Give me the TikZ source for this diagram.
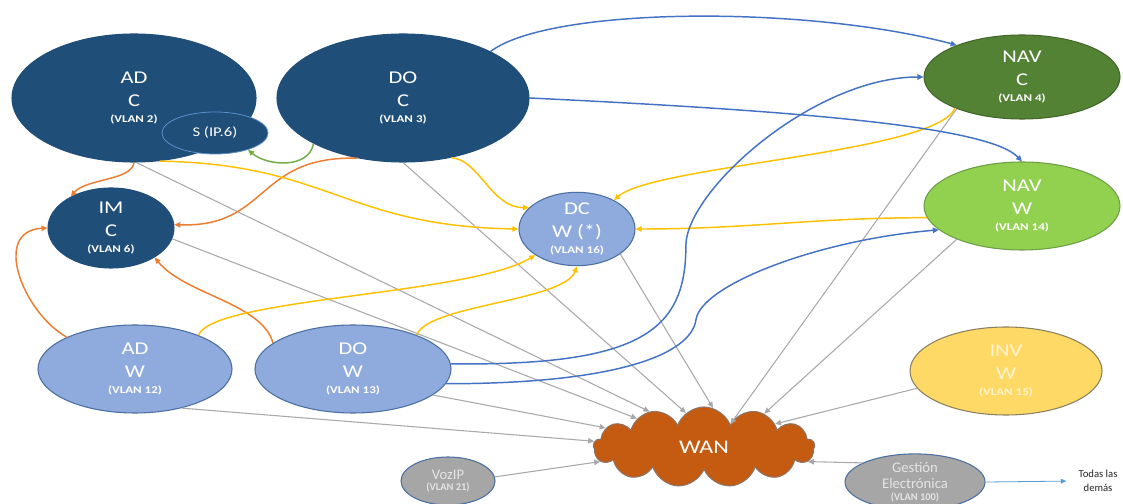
\documentclass[tikz,border=0pt]{standalone}
\usepackage{fontspec}
\setmainfont{Carlito}
\newfontfamily\widefont[FakeStretch=1.25]{Carlito}
\usetikzlibrary{shapes.geometric,shapes.symbols,arrows.meta}
\definecolor{dkblue}{HTML}{1F4E79}
\definecolor{ltblue}{HTML}{8FAADC}
\definecolor{bdblue}{HTML}{4A6FA0}
\definecolor{sbord}{HTML}{5B8FC8}
\definecolor{navdk}{HTML}{548235}
\definecolor{navdkb}{HTML}{41662A}
\definecolor{navlt}{HTML}{92D050}
\definecolor{navltb}{HTML}{6E9E45}
\definecolor{invy}{HTML}{FFD966}
\definecolor{invb}{HTML}{8A8060}
\definecolor{invt}{HTML}{FFF3CF}
\definecolor{wanor}{HTML}{C55A11}
\definecolor{wanb}{HTML}{8E7464}
\definecolor{gryfill}{HTML}{A6A6A6}
\definecolor{grytxt}{HTML}{E4E4E4}
\definecolor{orarr}{HTML}{ED7D31}
\definecolor{yelarr}{HTML}{FFC000}
\definecolor{bluarr}{HTML}{4472C4}
\definecolor{grnarr}{HTML}{70AD47}
\definecolor{gryarr}{HTML}{A9A9A9}
\definecolor{ltarr}{HTML}{5B9BD5}
\definecolor{todtxt}{HTML}{262626}
\newcommand\vlan[1]{{\fontsize{7.8}{9}\selectfont\bfseries(#1)}}
\begin{document}
\begin{tikzpicture}[x=0.75pt,y=0.75pt,
  nd/.style={ellipse, inner sep=0pt, align=center, line width=0.8pt, font=\widefont\fontsize{13.5}{17}\selectfont},
  dkn/.style={nd, fill=dkblue, draw=dkblue, text=white},
  lbn/.style={nd, fill=ltblue, draw=bdblue, text=white},
  gyn/.style={nd, fill=gryfill, draw=bdblue, text=grytxt, font=\fontsize{11}{12.5}\selectfont},
  con/.style={line width=1.1pt, -{Triangle[length=4.5pt,width=4pt]}},
  oc/.style={con, draw=orarr},
  yc/.style={con, draw=yelarr},
  bc/.style={con, draw=bluarr},
  gc/.style={con, draw=grnarr},
  gyc/.style={line width=0.8pt, draw=gryarr, -{Triangle[length=4.5pt,width=4pt]}},
]
\path[use as bounding box, fill=white] (0,0) rectangle (1123,503);

% nodes
\node[dkn, minimum width=183pt, minimum height=96pt] (adc) at (134,405) {AD\\C\\[-5pt]\vlan{VLAN 2}};
\node[nd, fill=dkblue, draw=sbord, text=white, line width=0.6pt, font=\widefont\fontsize{10}{11}\selectfont, minimum width=79.5pt, minimum height=31.5pt] (s) at (215,370) {S (IP.6)};
\node[dkn, minimum width=189pt, minimum height=96pt] (doc) at (403,405) {DO\\C\\[-5pt]\vlan{VLAN 3}};
\node[nd, fill=navdk, draw=navdkb, text=white, minimum width=147pt, minimum height=63pt] (navc) at (1022,426) {NAV\\C\\[-5pt]\vlan{VLAN 4}};
\node[nd, fill=navlt, draw=navltb, text=white, minimum width=147pt, minimum height=66pt] (navw) at (1022,297) {NAV\\W\\[-5pt]\vlan{VLAN 14}};
\node[dkn, minimum width=94.5pt, minimum height=60pt] (imc) at (111,275) {IM\\C\\[-5pt]\vlan{VLAN 6}};
\node[lbn, minimum width=87pt, minimum height=54pt] (dcw) at (577,274) {DC\\W (*)\\[-5pt]\vlan{VLAN 16}};
\node[lbn, minimum width=145.5pt, minimum height=66pt] (adw) at (135,134) {AD\\W\\[-5pt]\vlan{VLAN 12}};
\node[lbn, minimum width=147pt, minimum height=66pt] (dow) at (353,134) {DO\\W\\[-5pt]\vlan{VLAN 13}};
\node[nd, fill=invy, draw=invb, text=invt, minimum width=144pt, minimum height=66pt] (invw) at (1006,132) {INV\\W\\[-5pt]\vlan{VLAN 15}};
\node[cloud, cloud puffs=13, cloud puff arc=140, aspect=2.8, inner sep=0pt, fill=wanor, draw=wanb, line width=0.8pt, text=white, font=\widefont\fontsize{14.5}{16}\selectfont, minimum width=166pt, minimum height=60pt] (wan) at (704,56) {WAN};
\node[gyn, minimum width=70.5pt, minimum height=36pt] (voz) at (448,22) {VozIP\\[-4pt]\vlan{VLAN 21}};
\node[gyn, minimum width=105pt, minimum height=40.5pt] (ges) at (915,21) {Gesti\'on\\Electr\'onica\\[-4pt]\vlan{VLAN 100}};
\node[align=center, text=todtxt, inner sep=1pt, font=\fontsize{8}{10}\selectfont] (todas) at (1098,22) {Todas las\\dem\'as};

% gray connectors to WAN
\draw[gyc] (adc.-88) -- (wan.147);
\draw[gyc] (imc.-10) -- (wan.157);
\draw[gyc] (doc.-90) -- (wan.118);
\draw[gyc] (dcw.-30) -- (wan.77);
\draw[gyc] (navc.206) -- (wan.41);
\draw[gyc] (navw.207) -- (wan.29);
\draw[gyc] (invw.191) -- (wan.18);
\draw[gyc] (dow.-18) -- (wan.169);
\draw[gyc] (adw.-40) -- (wan.177);
\draw[gyc] (voz.5) -- (wan.188);
\draw[gyc] (ges.160) -- (wan.-8);

% orange
\draw[oc] (adc.-90) .. controls +(-2,-18) and +(15,18) .. (imc.142);
\draw[oc] (doc.-127) .. controls +(-102,3) and +(95,-3) .. (imc.3);
\draw[oc] (adw.155) .. controls +(-44,25) and +(-56,-3) .. (imc.180);
\draw[oc] (dow.162) .. controls +(-11,40) and +(30,-37) .. (imc.-34);

% yellow
\draw[yc] (adc.-68) .. controls +(170,-3) and +(-174,3) .. (dcw.180);
\draw[yc] (doc.-51) .. controls +(28,-2) and +(-38,0) .. (dcw.156);
\draw[yc] (navc.205) .. controls +(-20,-45) and +(40,35) .. (dcw.38);
\draw[yc] (navw.187) to[out=180,in=0] (dcw.0);
\draw[yc] (adw.28) .. controls +(13,37) and +(-65,-40) .. (dcw.-148);
\draw[yc] (dow.28) .. controls +(10,30) and +(-13,-35) .. (dcw.-90);

% green
\draw[gc] (doc.207) to[out=-100,in=-40] (s.-27);

% blue
\draw[bc] (doc.28) .. controls +(60,45) and +(-150,40) .. (navc.154);
\draw[bc] (doc.0) .. controls +(271,-13) and +(-33,35) .. (navw.90);
\draw[bc] (dow.3) .. controls +(190,-2) and +(0,-85) .. ++(235,118) .. controls +(0,55) and +(-110,0) .. (navc.180);
\draw[bc] (dow.-9) .. controls +(170,0) and +(-5,-35) .. ++(250,64) .. controls +(5,35) and +(-120,-10) .. (navw.196);

% Gestion -> todas
\draw[line width=0.6pt, draw=ltarr, shorten >=8pt, -{Triangle[length=4pt,width=3.5pt]}] (ges.east) -- (todas.west);
\end{tikzpicture}
\end{document}
